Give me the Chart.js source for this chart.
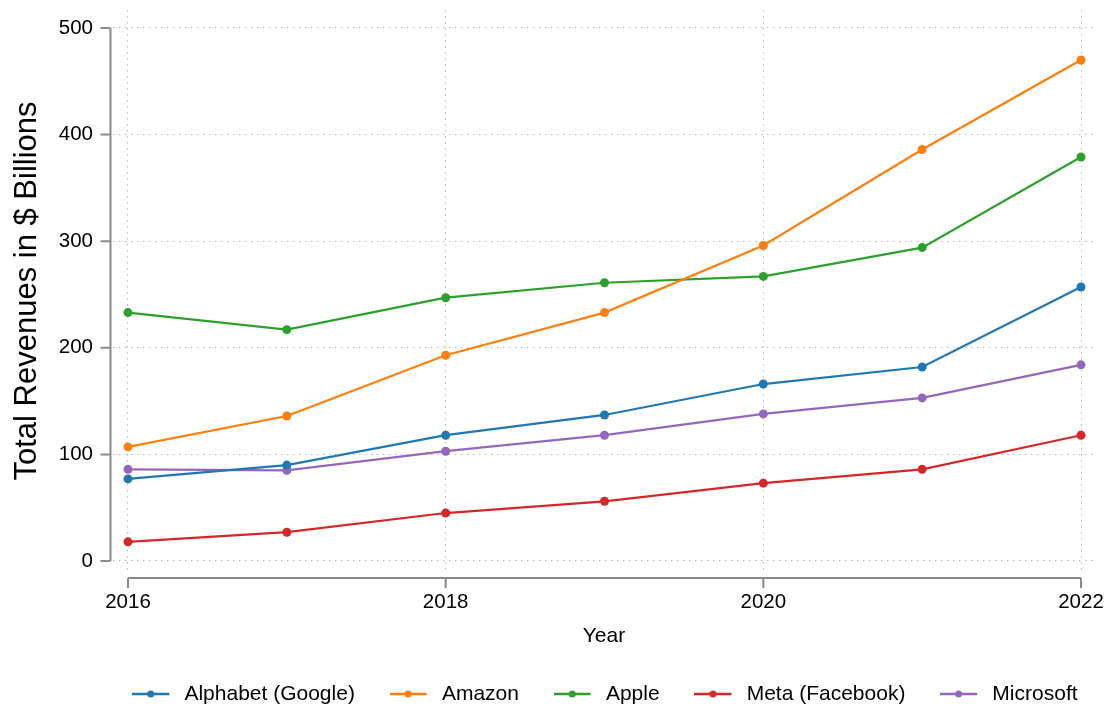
<!DOCTYPE html>
<html>
<head>
<meta charset="utf-8">
<script src="https://cdn.jsdelivr.net/npm/chart.js@4/dist/chart.umd.min.js"></script>
<style>
  html, body { margin: 0; padding: 0; background: #fff; }
  #wrap { width: 1113px; height: 709px; }
</style>
</head>
<body>
<div id="wrap"><canvas id="revChart" width="1113" height="709"></canvas></div>
<script>
const years = [2016, 2017, 2018, 2019, 2020, 2021, 2022];
const companies = ["Alphabet (Google)", "Amazon", "Apple", "Meta (Facebook)", "Microsoft"];
const colors = ["#1f77b4", "#ff7f0e", "#2ca02c", "#d62728", "#9467bd"];

const alphabet = [77, 90, 118, 137, 166, 182, 257];
const amazon = [107, 136, 193, 233, 296, 386, 470];
const apple = [233, 217, 247, 261, 267, 294, 379];
const meta = [18, 27, 45, 56, 73, 86, 118];
const microsoft = [86, 85, 103, 118, 138, 153, 184];
const series = [alphabet, amazon, apple, meta, microsoft];

const xTicks = [2016, 2018, 2020, 2022];
const yTicks = [0, 100, 200, 300, 400, 500];

const font = "'Liberation Sans', Arial, sans-serif";
const axisGray = "#8a8a8a";
const legendPad = 35;

// little line + dot for each legend entry
const legendIcon = (color) => {
  const c = document.createElement("canvas");
  c.width = 42;
  c.height = 12;
  const g = c.getContext("2d");
  g.strokeStyle = color;
  g.lineWidth = 2.5;
  g.beginPath();
  g.moveTo(0, 6);
  g.lineTo(37, 6);
  g.stroke();
  g.fillStyle = color;
  g.beginPath();
  g.arc(18.5, 6, 3.5, 0, Math.PI * 2);
  g.fill();
  return c;
};
const icons = colors.map(legendIcon);

// detached axis lines with outward ticks, legend centred under the plot
const axisLines = {
  id: "axisLines",
  afterLayout(chart) {
    const lg = chart.legend;
    if (!lg || !lg.lineWidths) return;
    const lw = lg.lineWidths[0];
    const x0 = (lg.left + legendPad + lg.right - lw) / 2;
    const want = (chart.chartArea.left + chart.chartArea.right) / 2 + 1 - (lw - legendPad) / 2;
    lg.left += want - x0;
    lg.right += want - x0;
  },
  afterDraw(chart) {
    const { ctx, scales } = chart;
    const x = scales.x, y = scales.y;
    ctx.save();
    ctx.strokeStyle = axisGray;
    ctx.lineWidth = 2;
    const ax = x.left - 2.5;
    ctx.beginPath();
    ctx.moveTo(ax, y.getPixelForValue(yTicks[yTicks.length - 1]));
    ctx.lineTo(ax, y.getPixelForValue(yTicks[0]));
    yTicks.forEach((v) => {
      const py = y.getPixelForValue(v);
      ctx.moveTo(ax - 10, py);
      ctx.lineTo(ax, py);
    });
    const ay = y.bottom + 6;
    ctx.moveTo(x.getPixelForValue(xTicks[0]), ay);
    ctx.lineTo(x.getPixelForValue(xTicks[xTicks.length - 1]), ay);
    xTicks.forEach((v) => {
      const px = x.getPixelForValue(v);
      ctx.moveTo(px, ay);
      ctx.lineTo(px, ay + 10);
    });
    ctx.stroke();
    ctx.restore();
  },
};

const datasets = companies.map((name, i) => ({
  label: name,
  data: years.map((yr, j) => ({ x: yr, y: series[i][j] })),
  borderColor: colors[i],
  backgroundColor: colors[i],
  borderWidth: 2.2,
  pointRadius: 4.5,
  pointBorderWidth: 0,
  pointBackgroundColor: colors[i],
  tension: 0,
}));

new Chart(document.getElementById("revChart"), {
  type: "line",
  data: { datasets },
  plugins: [axisLines],
  options: {
    responsive: false,
    animation: false,
    devicePixelRatio: 1,
    layout: { padding: { left: 0, right: 18, top: 10, bottom: -5.5 } },
    plugins: {
      tooltip: { enabled: false },
      legend: {
        position: "bottom",
        labels: {
          usePointStyle: true,
          pointStyleWidth: 41.5,
          padding: legendPad,
          color: "#000",
          font: { family: font, size: 21 },
          generateLabels(chart) {
            const items = Chart.defaults.plugins.legend.labels.generateLabels(chart);
            items.forEach((it) => { it.pointStyle = icons[it.datasetIndex]; });
            return items;
          },
        },
      },
    },
    scales: {
      x: {
        type: "linear",
        min: 2015.9056,
        max: 2022.0881,
        afterBuildTicks: (s) => { s.ticks = xTicks.map((v) => ({ value: v })); },
        afterFit: (s) => { s.height = 76.5; s.paddingLeft = 0; s.paddingRight = 0; },
        grid: { color: "#b5b5b5", lineWidth: 1, drawTicks: false },
        border: { display: false, dash: [1.5, 4.5] },
        ticks: {
          padding: 18,
          color: "#000",
          font: { family: font, size: 20.5 },
          maxRotation: 0,
          callback: (v) => String(v),
        },
        title: {
          display: true,
          text: "Year",
          color: "#000",
          font: { family: font, size: 21 },
          padding: { top: 2, bottom: 0 },
        },
      },
      y: {
        min: -10.32,
        max: 516.885,
        afterBuildTicks: (s) => { s.ticks = yTicks.map((v) => ({ value: v })); },
        afterFit: (s) => { s.width = 113; s.paddingTop = 0; s.paddingBottom = 0; },
        grid: { color: "#b5b5b5", lineWidth: 1, drawTicks: false },
        border: { display: false, dash: [1.5, 4.5] },
        ticks: {
          padding: 20,
          color: "#000",
          font: { family: font, size: 20.5 },
          callback: (v) => String(v),
        },
        title: {
          display: true,
          text: "Total Revenues in $ Billions",
          color: "#000",
          font: { family: font, size: 31 },
          padding: { top: 8.4, bottom: 0 },
        },
      },
    },
  },
});
</script>
</body>
</html>
